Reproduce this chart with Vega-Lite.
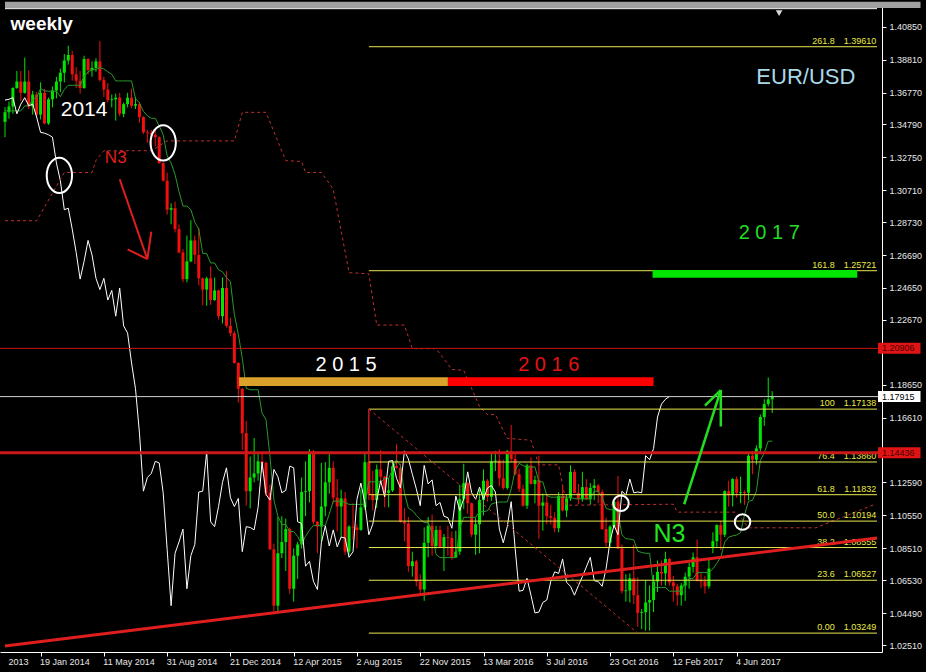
{
"$schema": "https://vega.github.io/schema/vega-lite/v6.json",
"width": 882, "height": 648, "autosize": "none",
"padding": {"top": 4, "left": 0, "right": 44, "bottom": 20},
"background": "#000000",
"config": {"view": {"stroke": null}},
"datasets": {
"c": [
{"w":0,"o":1.3495,"h":1.3586,"l":1.34,"c":1.3555,"t":1.3563,"k":1.363},
{"w":1,"o":1.3555,"h":1.362,"l":1.3515,"c":1.359,"t":1.3563,"k":1.3635},
{"w":2,"o":1.359,"h":1.371,"l":1.3545,"c":1.3705,"t":1.3563,"k":1.3645},
{"w":3,"o":1.3705,"h":1.381,"l":1.37,"c":1.3745,"t":1.3563,"k":1.3545},
{"w":4,"o":1.3745,"h":1.381,"l":1.3625,"c":1.3675,"t":1.3563,"k":1.3605},
{"w":5,"o":1.3675,"h":1.3893,"l":1.367,"c":1.3745,"t":1.3594,"k":1.3645},
{"w":6,"o":1.3745,"h":1.3815,"l":1.3575,"c":1.359,"t":1.3594,"k":1.3595},
{"w":7,"o":1.359,"h":1.3688,"l":1.354,"c":1.3665,"t":1.3632,"k":1.3605},
{"w":8,"o":1.3665,"h":1.368,"l":1.3525,"c":1.354,"t":1.3647,"k":1.3525},
{"w":9,"o":1.354,"h":1.374,"l":1.351,"c":1.3675,"t":1.3702,"k":1.343},
{"w":10,"o":1.3675,"h":1.37,"l":1.348,"c":1.3485,"t":1.3687,"k":1.3425},
{"w":11,"o":1.3485,"h":1.3645,"l":1.3477,"c":1.3635,"t":1.3685,"k":1.3415},
{"w":12,"o":1.3635,"h":1.3715,"l":1.3585,"c":1.369,"t":1.3685,"k":1.34},
{"w":13,"o":1.369,"h":1.3774,"l":1.364,"c":1.3745,"t":1.3685,"k":1.324},
{"w":14,"o":1.3745,"h":1.3825,"l":1.368,"c":1.38,"t":1.3651,"k":1.313},
{"w":15,"o":1.38,"h":1.3915,"l":1.374,"c":1.3875,"t":1.3696,"k":1.295},
{"w":16,"o":1.3875,"h":1.3967,"l":1.385,"c":1.391,"t":1.3722,"k":1.296},
{"w":17,"o":1.391,"h":1.3935,"l":1.375,"c":1.379,"t":1.3722,"k":1.283},
{"w":18,"o":1.379,"h":1.3835,"l":1.3705,"c":1.375,"t":1.3722,"k":1.2685},
{"w":19,"o":1.375,"h":1.381,"l":1.367,"c":1.3705,"t":1.3722,"k":1.252},
{"w":20,"o":1.3705,"h":1.3905,"l":1.37,"c":1.3885,"t":1.3776,"k":1.263},
{"w":21,"o":1.3885,"h":1.389,"l":1.379,"c":1.3815,"t":1.3804,"k":1.276},
{"w":22,"o":1.3815,"h":1.387,"l":1.3775,"c":1.383,"t":1.3819,"k":1.267},
{"w":23,"o":1.383,"h":1.389,"l":1.3805,"c":1.387,"t":1.3819,"k":1.2525},
{"w":24,"o":1.387,"h":1.3995,"l":1.3745,"c":1.3755,"t":1.3833,"k":1.2455},
{"w":25,"o":1.3755,"h":1.3775,"l":1.365,"c":1.3695,"t":1.3823,"k":1.2525},
{"w":26,"o":1.3695,"h":1.3735,"l":1.3615,"c":1.363,"t":1.3805,"k":1.239},
{"w":27,"o":1.363,"h":1.3665,"l":1.3585,"c":1.3635,"t":1.379,"k":1.245},
{"w":28,"o":1.3635,"h":1.367,"l":1.3503,"c":1.3645,"t":1.3749,"k":1.229},
{"w":29,"o":1.3645,"h":1.3675,"l":1.353,"c":1.3545,"t":1.3749,"k":1.2465},
{"w":30,"o":1.3545,"h":1.3615,"l":1.3525,"c":1.3605,"t":1.3749,"k":1.223},
{"w":31,"o":1.3605,"h":1.3675,"l":1.3585,"c":1.3645,"t":1.3749,"k":1.2185},
{"w":32,"o":1.3645,"h":1.37,"l":1.358,"c":1.3595,"t":1.3749,"k":1.2},
{"w":33,"o":1.3595,"h":1.365,"l":1.3575,"c":1.3605,"t":1.3639,"k":1.184},
{"w":34,"o":1.3605,"h":1.362,"l":1.349,"c":1.3525,"t":1.3613,"k":1.1565},
{"w":35,"o":1.3525,"h":1.353,"l":1.342,"c":1.343,"t":1.356,"k":1.1205},
{"w":36,"o":1.343,"h":1.3445,"l":1.3365,"c":1.3425,"t":1.3533,"k":1.129},
{"w":37,"o":1.3425,"h":1.3445,"l":1.3333,"c":1.3415,"t":1.3517,"k":1.1315},
{"w":38,"o":1.3415,"h":1.3445,"l":1.3345,"c":1.34,"t":1.3517,"k":1.139},
{"w":39,"o":1.34,"h":1.3405,"l":1.3235,"c":1.324,"t":1.347,"k":1.138},
{"w":40,"o":1.324,"h":1.3245,"l":1.3125,"c":1.313,"t":1.3415,"k":1.1195},
{"w":41,"o":1.313,"h":1.318,"l":1.292,"c":1.295,"t":1.3285,"k":1.0845},
{"w":42,"o":1.295,"h":1.299,"l":1.286,"c":1.296,"t":1.324,"k":1.0495},
{"w":43,"o":1.296,"h":1.3,"l":1.281,"c":1.283,"t":1.3168,"k":1.082},
{"w":44,"o":1.283,"h":1.286,"l":1.268,"c":1.2685,"t":1.3063,"k":1.089},
{"w":45,"o":1.2685,"h":1.2705,"l":1.25,"c":1.252,"t":1.2973,"k":1.097},
{"w":46,"o":1.252,"h":1.279,"l":1.25,"c":1.263,"t":1.2973,"k":1.06},
{"w":47,"o":1.263,"h":1.2885,"l":1.2625,"c":1.276,"t":1.295,"k":1.0805},
{"w":48,"o":1.276,"h":1.279,"l":1.2615,"c":1.267,"t":1.2873,"k":1.0875},
{"w":49,"o":1.267,"h":1.284,"l":1.248,"c":1.2525,"t":1.283,"k":1.12},
{"w":50,"o":1.2525,"h":1.253,"l":1.2358,"c":1.2455,"t":1.2679,"k":1.1205},
{"w":51,"o":1.2455,"h":1.2535,"l":1.2355,"c":1.2525,"t":1.2678,"k":1.145},
{"w":52,"o":1.2525,"h":1.26,"l":1.236,"c":1.239,"t":1.262,"k":1.1015},
{"w":53,"o":1.239,"h":1.253,"l":1.2385,"c":1.245,"t":1.262,"k":1.0985},
{"w":54,"o":1.245,"h":1.2455,"l":1.227,"c":1.229,"t":1.2578,"k":1.111},
{"w":55,"o":1.229,"h":1.253,"l":1.2245,"c":1.2465,"t":1.2565,"k":1.126},
{"w":56,"o":1.2465,"h":1.257,"l":1.222,"c":1.223,"t":1.253,"k":1.135},
{"w":57,"o":1.223,"h":1.228,"l":1.2165,"c":1.2185,"t":1.2503,"k":1.1165},
{"w":58,"o":1.2185,"h":1.22,"l":1.1995,"c":1.2,"t":1.23,"k":1.111},
{"w":59,"o":1.2,"h":1.2005,"l":1.1755,"c":1.184,"t":1.2178,"k":1.116},
{"w":60,"o":1.184,"h":1.1845,"l":1.146,"c":1.1565,"t":1.203,"k":1.083},
{"w":61,"o":1.1565,"h":1.164,"l":1.1115,"c":1.1205,"t":1.1843,"k":1.0985},
{"w":62,"o":1.1205,"h":1.142,"l":1.1098,"c":1.129,"t":1.1834,"k":1.098},
{"w":63,"o":1.129,"h":1.1535,"l":1.126,"c":1.1315,"t":1.1834,"k":1.0965},
{"w":64,"o":1.1315,"h":1.1445,"l":1.127,"c":1.139,"t":1.1834,"k":1.1105},
{"w":65,"o":1.139,"h":1.145,"l":1.132,"c":1.138,"t":1.1689,"k":1.1385},
{"w":66,"o":1.138,"h":1.139,"l":1.1175,"c":1.1195,"t":1.1649,"k":1.1185},
{"w":67,"o":1.1195,"h":1.1245,"l":1.084,"c":1.0845,"t":1.142,"k":1.115},
{"w":68,"o":1.0845,"h":1.088,"l":1.046,"c":1.0495,"t":1.115,"k":1.134},
{"w":69,"o":1.0495,"h":1.1045,"l":1.046,"c":1.082,"t":1.105,"k":1.1295},
{"w":70,"o":1.082,"h":1.105,"l":1.079,"c":1.089,"t":1.0998,"k":1.1195},
{"w":71,"o":1.089,"h":1.1035,"l":1.071,"c":1.097,"t":1.0998,"k":1.121},
{"w":72,"o":1.097,"h":1.098,"l":1.057,"c":1.06,"t":1.0955,"k":1.136},
{"w":73,"o":1.06,"h":1.085,"l":1.052,"c":1.0805,"t":1.0955,"k":1.135},
{"w":74,"o":1.0805,"h":1.089,"l":1.066,"c":1.0875,"t":1.0925,"k":1.1015},
{"w":75,"o":1.0875,"h":1.129,"l":1.085,"c":1.12,"t":1.0875,"k":1.1005},
{"w":76,"o":1.12,"h":1.139,"l":1.105,"c":1.1205,"t":1.0925,"k":1.074},
{"w":77,"o":1.1205,"h":1.1465,"l":1.1135,"c":1.145,"t":1.0963,"k":1.077},
{"w":78,"o":1.145,"h":1.146,"l":1.1,"c":1.1015,"t":1.0993,"k":1.0645},
{"w":79,"o":1.1015,"h":1.102,"l":1.082,"c":1.0985,"t":1.0993,"k":1.0595},
{"w":80,"o":1.0985,"h":1.138,"l":1.089,"c":1.111,"t":1.0993,"k":1.0885},
{"w":81,"o":1.111,"h":1.1385,"l":1.105,"c":1.126,"t":1.0993,"k":1.099},
{"w":82,"o":1.126,"h":1.1435,"l":1.119,"c":1.135,"t":1.1063,"k":1.0865},
{"w":83,"o":1.135,"h":1.139,"l":1.113,"c":1.1165,"t":1.1143,"k":1.0965},
{"w":84,"o":1.1165,"h":1.128,"l":1.0955,"c":1.111,"t":1.1143,"k":1.086},
{"w":85,"o":1.111,"h":1.1215,"l":1.0915,"c":1.116,"t":1.1143,"k":1.092},
{"w":86,"o":1.116,"h":1.12,"l":1.081,"c":1.083,"t":1.1135,"k":1.0915},
{"w":87,"o":1.083,"h":1.0995,"l":1.081,"c":1.0985,"t":1.1123,"k":1.0795},
{"w":88,"o":1.0985,"h":1.113,"l":1.0905,"c":1.098,"t":1.1123,"k":1.083},
{"w":89,"o":1.098,"h":1.1,"l":1.085,"c":1.0965,"t":1.1123,"k":1.1155},
{"w":90,"o":1.0965,"h":1.1215,"l":1.096,"c":1.1105,"t":1.1123,"k":1.1255},
{"w":91,"o":1.1105,"h":1.144,"l":1.109,"c":1.1385,"t":1.1125,"k":1.113},
{"w":92,"o":1.1385,"h":1.1715,"l":1.115,"c":1.1185,"t":1.1263,"k":1.0935},
{"w":93,"o":1.1185,"h":1.133,"l":1.1085,"c":1.115,"t":1.1263,"k":1.1},
{"w":94,"o":1.115,"h":1.137,"l":1.11,"c":1.134,"t":1.1263,"k":1.115},
{"w":95,"o":1.134,"h":1.146,"l":1.125,"c":1.1295,"t":1.1263,"k":1.127},
{"w":96,"o":1.1295,"h":1.13,"l":1.1105,"c":1.1195,"t":1.1283,"k":1.117},
{"w":97,"o":1.1195,"h":1.1285,"l":1.1105,"c":1.121,"t":1.1283,"k":1.139},
{"w":98,"o":1.121,"h":1.1385,"l":1.12,"c":1.136,"t":1.1338,"k":1.1395},
{"w":99,"o":1.136,"h":1.1495,"l":1.1345,"c":1.135,"t":1.14,"k":1.1285},
{"w":100,"o":1.135,"h":1.1375,"l":1.101,"c":1.1015,"t":1.1363,"k":1.1225},
{"w":101,"o":1.1015,"h":1.11,"l":1.0895,"c":1.1005,"t":1.1195,"k":1.1455},
{"w":102,"o":1.1005,"h":1.1045,"l":1.0705,"c":1.074,"t":1.11,"k":1.1405},
{"w":103,"o":1.074,"h":1.083,"l":1.0675,"c":1.077,"t":1.1085,"k":1.131},
{"w":104,"o":1.077,"h":1.078,"l":1.0615,"c":1.0645,"t":1.1055,"k":1.122},
{"w":105,"o":1.0645,"h":1.069,"l":1.0565,"c":1.0595,"t":1.103,"k":1.1115},
{"w":106,"o":1.0595,"h":1.098,"l":1.0525,"c":1.0885,"t":1.101,"k":1.1365},
{"w":107,"o":1.0885,"h":1.1045,"l":1.0795,"c":1.099,"t":1.101,"k":1.125},
{"w":108,"o":1.099,"h":1.106,"l":1.0805,"c":1.0865,"t":1.095,"k":1.1275},
{"w":109,"o":1.0865,"h":1.099,"l":1.085,"c":1.0965,"t":1.0813,"k":1.1115},
{"w":110,"o":1.0965,"h":1.099,"l":1.0855,"c":1.086,"t":1.0793,"k":1.1135},
{"w":111,"o":1.086,"h":1.094,"l":1.071,"c":1.092,"t":1.0793,"k":1.105},
{"w":112,"o":1.092,"h":1.099,"l":1.0805,"c":1.0915,"t":1.0793,"k":1.104},
{"w":113,"o":1.0915,"h":1.0955,"l":1.078,"c":1.0795,"t":1.0793,"k":1.0975},
{"w":114,"o":1.0795,"h":1.096,"l":1.079,"c":1.083,"t":1.0793,"k":1.1175},
{"w":115,"o":1.083,"h":1.1245,"l":1.081,"c":1.1155,"t":1.0978,"k":1.1085},
{"w":116,"o":1.1155,"h":1.1375,"l":1.1095,"c":1.1255,"t":1.1043,"k":1.116},
{"w":117,"o":1.1255,"h":1.126,"l":1.1065,"c":1.113,"t":1.1043,"k":1.1325},
{"w":118,"o":1.113,"h":1.1135,"l":1.092,"c":1.0935,"t":1.1043,"k":1.1195},
{"w":119,"o":1.0935,"h":1.104,"l":1.081,"c":1.1,"t":1.1043,"k":1.1155},
{"w":120,"o":1.1,"h":1.1215,"l":1.082,"c":1.115,"t":1.1078,"k":1.123},
{"w":121,"o":1.115,"h":1.134,"l":1.1055,"c":1.127,"t":1.1078,"k":1.1155},
{"w":122,"o":1.127,"h":1.128,"l":1.114,"c":1.117,"t":1.1083,"k":1.1225},
{"w":123,"o":1.117,"h":1.144,"l":1.1145,"c":1.139,"t":1.1125,"k":1.124},
{"w":124,"o":1.139,"h":1.1455,"l":1.133,"c":1.1395,"t":1.1133,"k":1.12},
{"w":125,"o":1.1395,"h":1.1465,"l":1.1235,"c":1.1285,"t":1.1138,"k":1.097},
{"w":126,"o":1.1285,"h":1.14,"l":1.1215,"c":1.1225,"t":1.1138,"k":1.0885},
{"w":127,"o":1.1225,"h":1.146,"l":1.1215,"c":1.1455,"t":1.1138,"k":1.0985},
{"w":128,"o":1.1455,"h":1.1615,"l":1.1385,"c":1.1405,"t":1.1218,"k":1.114},
{"w":129,"o":1.1405,"h":1.1445,"l":1.1305,"c":1.131,"t":1.1335,"k":1.085},
{"w":130,"o":1.131,"h":1.1345,"l":1.12,"c":1.122,"t":1.1378,"k":1.0585},
{"w":131,"o":1.122,"h":1.1245,"l":1.111,"c":1.1115,"t":1.1363,"k":1.059},
{"w":132,"o":1.1115,"h":1.1375,"l":1.1095,"c":1.1365,"t":1.1355,"k":1.0665},
{"w":133,"o":1.1365,"h":1.1415,"l":1.1245,"c":1.125,"t":1.1355,"k":1.056},
{"w":134,"o":1.125,"h":1.13,"l":1.113,"c":1.1275,"t":1.1355,"k":1.045},
{"w":135,"o":1.1275,"h":1.1425,"l":1.091,"c":1.1115,"t":1.1263,"k":1.0455},
{"w":136,"o":1.1115,"h":1.119,"l":1.096,"c":1.1135,"t":1.1263,"k":1.0515},
{"w":137,"o":1.1135,"h":1.1185,"l":1.1,"c":1.105,"t":1.1178,"k":1.053},
{"w":138,"o":1.105,"h":1.112,"l":1.1,"c":1.104,"t":1.1168,"k":1.0645},
{"w":139,"o":1.104,"h":1.1075,"l":1.095,"c":1.0975,"t":1.1168,"k":1.0705},
{"w":140,"o":1.0975,"h":1.12,"l":1.095,"c":1.1175,"t":1.1168,"k":1.0695},
{"w":141,"o":1.1175,"h":1.1235,"l":1.108,"c":1.1085,"t":1.1168,"k":1.0785},
{"w":142,"o":1.1085,"h":1.1185,"l":1.1045,"c":1.116,"t":1.1168,"k":1.064},
{"w":143,"o":1.116,"h":1.1365,"l":1.1145,"c":1.1325,"t":1.1168,"k":1.0615},
{"w":144,"o":1.1325,"h":1.134,"l":1.119,"c":1.1195,"t":1.1158,"k":1.056},
{"w":145,"o":1.1195,"h":1.125,"l":1.1125,"c":1.1155,"t":1.1158,"k":1.062},
{"w":146,"o":1.1155,"h":1.1325,"l":1.114,"c":1.123,"t":1.1158,"k":1.0675},
{"w":147,"o":1.123,"h":1.128,"l":1.115,"c":1.1155,"t":1.1158,"k":1.0735},
{"w":148,"o":1.1155,"h":1.1255,"l":1.112,"c":1.1225,"t":1.1158,"k":1.0795},
{"w":149,"o":1.1225,"h":1.128,"l":1.115,"c":1.124,"t":1.1205,"k":1.065},
{"w":150,"o":1.124,"h":1.125,"l":1.113,"c":1.12,"t":1.1205,"k":1.0645},
{"w":151,"o":1.12,"h":1.1215,"l":1.0965,"c":1.097,"t":1.1165,"k":1.0615},
{"w":152,"o":1.097,"h":1.104,"l":1.086,"c":1.0885,"t":1.11,"k":1.0725},
{"w":153,"o":1.0885,"h":1.0995,"l":1.0855,"c":1.0985,"t":1.109,"k":1.0895},
{"w":154,"o":1.0985,"h":1.1145,"l":1.0975,"c":1.114,"t":1.109,"k":1.0995},
{"w":155,"o":1.114,"h":1.13,"l":1.0845,"c":1.085,"t":1.1075,"k":1.0935},
{"w":156,"o":1.085,"h":1.0875,"l":1.057,"c":1.0585,"t":1.0935,"k":1.1205},
{"w":157,"o":1.0585,"h":1.069,"l":1.052,"c":1.059,"t":1.091,"k":1.118},
{"w":158,"o":1.059,"h":1.0695,"l":1.0515,"c":1.0665,"t":1.0908,"k":1.128},
{"w":159,"o":1.0665,"h":1.0875,"l":1.0505,"c":1.056,"t":1.0903,"k":1.1195},
{"w":160,"o":1.056,"h":1.067,"l":1.0365,"c":1.045,"t":1.0833,"k":1.12},
{"w":161,"o":1.045,"h":1.0475,"l":1.035,"c":1.0455,"t":1.0825,"k":1.1195},
{"w":162,"o":1.0455,"h":1.0655,"l":1.034,"c":1.0515,"t":1.082,"k":1.1425},
{"w":163,"o":1.0515,"h":1.062,"l":1.034,"c":1.053,"t":1.082,"k":1.14},
{"w":164,"o":1.053,"h":1.0685,"l":1.0455,"c":1.0645,"t":1.0608,"k":1.147},
{"w":165,"o":1.0645,"h":1.0775,"l":1.058,"c":1.0705,"t":1.0608,"k":1.1665},
{"w":166,"o":1.0705,"h":1.0775,"l":1.062,"c":1.0695,"t":1.0608,"k":1.1745},
{"w":167,"o":1.0695,"h":1.083,"l":1.062,"c":1.0785,"t":1.0608,"k":1.1775},
{"w":168,"o":1.0785,"h":1.079,"l":1.062,"c":1.064,"t":1.0585,"k":1.1792},
{"w":169,"o":1.064,"h":1.068,"l":1.052,"c":1.0615,"t":1.0585},
{"w":170,"o":1.0615,"h":1.063,"l":1.0495,"c":1.056,"t":1.0585},
{"w":171,"o":1.056,"h":1.0635,"l":1.0495,"c":1.062,"t":1.0585},
{"w":172,"o":1.062,"h":1.07,"l":1.0525,"c":1.0675,"t":1.0643},
{"w":173,"o":1.0675,"h":1.076,"l":1.06,"c":1.0735,"t":1.0663},
{"w":174,"o":1.0735,"h":1.0825,"l":1.07,"c":1.0795,"t":1.0663},
{"w":175,"o":1.0795,"h":1.0905,"l":1.0645,"c":1.065,"t":1.07},
{"w":176,"o":1.065,"h":1.0695,"l":1.0605,"c":1.0645,"t":1.07},
{"w":177,"o":1.0645,"h":1.068,"l":1.057,"c":1.0615,"t":1.07},
{"w":178,"o":1.0615,"h":1.078,"l":1.06,"c":1.0725,"t":1.07},
{"w":179,"o":1.086,"h":1.095,"l":1.082,"c":1.0895,"t":1.0723},
{"w":180,"o":1.0895,"h":1.1,"l":1.086,"c":1.0995,"t":1.0758},
{"w":181,"o":1.0995,"h":1.102,"l":1.084,"c":1.0935,"t":1.0795},
{"w":182,"o":1.0935,"h":1.121,"l":1.092,"c":1.1205,"t":1.089},
{"w":183,"o":1.1205,"h":1.127,"l":1.111,"c":1.118,"t":1.092},
{"w":184,"o":1.118,"h":1.1285,"l":1.111,"c":1.128,"t":1.0928},
{"w":185,"o":1.128,"h":1.1295,"l":1.1165,"c":1.1195,"t":1.0933},
{"w":186,"o":1.1195,"h":1.1295,"l":1.113,"c":1.12,"t":1.0948},
{"w":187,"o":1.12,"h":1.121,"l":1.112,"c":1.1195,"t":1.1058},
{"w":188,"o":1.1195,"h":1.1445,"l":1.115,"c":1.1425,"t":1.1143},
{"w":189,"o":1.1425,"h":1.1455,"l":1.131,"c":1.14,"t":1.1148},
{"w":190,"o":1.14,"h":1.149,"l":1.137,"c":1.147,"t":1.1205},
{"w":191,"o":1.147,"h":1.168,"l":1.144,"c":1.1665,"t":1.1395},
{"w":192,"o":1.1665,"h":1.1775,"l":1.161,"c":1.1745,"t":1.1443},
{"w":193,"o":1.1745,"h":1.191,"l":1.173,"c":1.1775,"t":1.1515},
{"w":194,"o":1.1775,"h":1.1825,"l":1.169,"c":1.1792,"t":1.1515}
],
"sb": [
{"w":0,"v":1.2882},{"w":8,"v":1.2882},{"w":15,"v":1.3181},{"w":22,"v":1.3181},{"w":23,"v":1.3255},{"w":25,"v":1.3316},{"w":37,"v":1.3316},{"w":41,"v":1.3377},{"w":58,"v":1.3377},{"w":60,"v":1.3554},{"w":66,"v":1.3554},{"w":71,"v":1.3255},{"w":75,"v":1.3249},{"w":76,"v":1.3181},{"w":80,"v":1.3181},{"w":83,"v":1.3078},{"w":87,"v":1.256},{"w":92,"v":1.2553},{"w":94,"v":1.2235},{"w":101,"v":1.2235},{"w":103,"v":1.2089},{"w":109,"v":1.2089},{"w":113,"v":1.196},{"w":116,"v":1.1954},{"w":120,"v":1.1729},{"w":122,"v":1.168},{"w":124,"v":1.168},{"w":127,"v":1.1533},{"w":133,"v":1.1521},{"w":135,"v":1.1368},{"w":140,"v":1.1368},{"w":142,"v":1.1118},{"w":169,"v":1.1124},{"w":170,"v":1.1075},{"w":185,"v":1.1075},{"w":188,"v":1.0978},{"w":205,"v":1.0978},{"w":220,"v":1.1124}
],
"fib": [
{"lvl":"261.8","s":"1.39610","v":1.3961},{"lvl":"161.8","s":"1.25721","v":1.25721},{"lvl":"100","s":"1.17138","v":1.17138},{"lvl":"76.4","s":"1.13860","v":1.1386},{"lvl":"61.8","s":"1.11832","v":1.11832},{"lvl":"50.0","s":"1.10194","v":1.10194},{"lvl":"38.2","s":"1.08555","v":1.08555},{"lvl":"23.6","s":"1.06527","v":1.06527},{"lvl":"0.00","s":"1.03249","v":1.03249}
]
},
"layer": [
{"data": {"name": "c"},
 "mark": {"type": "rule", "strokeWidth": 1},
 "encoding": {
  "x": {"field": "w", "type": "quantitative", "scale": {"domain": [0, 220.5], "nice": false, "zero": false},
   "axis": {"orient": "bottom", "title": null, "grid": false, "values": [0, 9, 25, 41, 57, 73, 89, 105, 121, 137, 153, 169, 185], "tickCount": 40,
    "labelExpr": "['2013','19 Jan 2014','11 May 2014','31 Aug 2014','21 Dec 2014','12 Apr 2015','2 Aug 2015','22 Nov 2015','13 Mar 2016','3 Jul 2016','23 Oct 2016','12 Feb 2017','4 Jun 2017'][datum.value == 0 ? 0 : (datum.value - 9) / 16 + 1]",
    "labelAlign": "left", "labelBaseline": "top", "labelPadding": 1, "tickSize": 4, "tickColor": "#ffffff", "domainColor": "#ffffff", "domainWidth": 1,
    "labelColor": "#e8e8e8", "labelFont": "Liberation Sans", "labelFontSize": 9, "labelFlush": false, "labelOverlap": false, "labelBound": false,
    "labelOffset": {"condition": {"test": "datum.value == 0", "value": 3}, "value": -1},
    "tickOpacity": {"condition": {"test": "datum.value == 0", "value": 0}, "value": 1}}},
  "y": {"field": "l", "type": "quantitative", "scale": {"domain": [1.02388, 1.41949], "nice": false, "zero": false},
   "axis": {"orient": "right", "title": null, "grid": false, "values": [1.4085, 1.3881, 1.3677, 1.3479, 1.3275, 1.3071, 1.2873, 1.2669, 1.2465, 1.2267, 1.1865, 1.1661, 1.1259, 1.1055, 1.0851, 1.0653, 1.0449, 1.0251], "tickCount": 40,
    "format": ".5f", "tickSize": 4, "tickColor": "#ffffff", "domainColor": "#ffffff", "domainWidth": 1, "labelPadding": 3,
    "labelColor": "#e8e8e8", "labelFont": "Liberation Sans", "labelFontSize": 9, "labelFlush": false, "labelOverlap": false, "labelBound": false}},
  "y2": {"field": "h"},
  "color": {"condition": {"test": "datum.c >= datum.o", "value": "#00e600"}, "value": "#f01010"}}},
{"data": {"values": [{"x1": 0, "x2": 231.5, "y1": 1.4201, "y2": 1.424}]},
 "mark": {"type": "rect", "color": "#a0a0a0"},
 "encoding": {"x": {"field": "x1", "type": "quantitative", "scale": {"domain": [0, 220.5], "nice": false, "zero": false}}, "x2": {"field": "x2"},
  "y": {"field": "y1", "type": "quantitative", "scale": {"domain": [1.02388, 1.41949], "nice": false, "zero": false}}, "y2": {"field": "y2"}}},
{"data": {"values": [{"x1": 0, "x2": 220.5, "v": 1.4197}]},
 "mark": {"type": "rule", "color": "#ffffff", "strokeWidth": 1},
 "encoding": {"x": {"field": "x1", "type": "quantitative", "scale": {"domain": [0, 220.5], "nice": false, "zero": false}}, "x2": {"field": "x2"},
  "y": {"field": "v", "type": "quantitative", "scale": {"domain": [1.02388, 1.41949], "nice": false, "zero": false}}}},
{"data": {"name": "c"},
 "mark": {"type": "bar"},
 "encoding": {
  "x": {"field": "w", "type": "quantitative", "scale": {"domain": [0, 220.5], "nice": false, "zero": false}},
  "y": {"field": "o", "type": "quantitative", "scale": {"domain": [1.02388, 1.41949], "nice": false, "zero": false}},
  "y2": {"field": "c"},
  "size": {"value": 3},
  "color": {"condition": {"test": "datum.c >= datum.o", "value": "#00e600"}, "value": "#f01010"}}},
{"data": {"name": "c"},
 "mark": {"type": "line", "color": "#2a9a2a", "strokeWidth": 1},
 "encoding": {
  "x": {"field": "w", "type": "quantitative", "scale": {"domain": [0, 220.5], "nice": false, "zero": false}},
  "y": {"field": "t", "type": "quantitative", "scale": {"domain": [1.02388, 1.41949], "nice": false, "zero": false}}}},
{"data": {"name": "c"},
 "transform": [{"filter": "isValid(datum.k)"}],
 "mark": {"type": "line", "color": "#ffffff", "strokeWidth": 1},
 "encoding": {
  "x": {"field": "w", "type": "quantitative", "scale": {"domain": [0, 220.5], "nice": false, "zero": false}},
  "y": {"field": "k", "type": "quantitative", "scale": {"domain": [1.02388, 1.41949], "nice": false, "zero": false}}}},
{"data": {"name": "sb"},
 "mark": {"type": "line", "color": "#c03030", "strokeWidth": 1, "strokeDash": [3, 3]},
 "encoding": {
  "x": {"field": "w", "type": "quantitative", "scale": {"domain": [0, 220.5], "nice": false, "zero": false}},
  "y": {"field": "v", "type": "quantitative", "scale": {"domain": [1.02388, 1.41949], "nice": false, "zero": false}}}},
{"data": {"name": "fib"},
 "mark": {"type": "rule", "color": "#e8e850", "strokeWidth": 1},
 "encoding": {
  "x": {"datum": 92, "type": "quantitative", "scale": {"domain": [0, 220.5], "nice": false, "zero": false}},
  "x2": {"datum": 220.5},
  "y": {"field": "v", "type": "quantitative", "scale": {"domain": [1.02388, 1.41949], "nice": false, "zero": false}}}},
{"data": {"name": "fib"},
 "mark": {"type": "text", "color": "#eaea44", "font": "Liberation Sans", "fontSize": 9, "align": "right", "baseline": "bottom", "dy": -1},
 "encoding": {
  "x": {"datum": 209.8, "type": "quantitative", "scale": {"domain": [0, 220.5], "nice": false, "zero": false}},
  "y": {"field": "v", "type": "quantitative", "scale": {"domain": [1.02388, 1.41949], "nice": false, "zero": false}},
  "text": {"field": "lvl"}}},
{"data": {"name": "fib"},
 "mark": {"type": "text", "color": "#eaea44", "font": "Liberation Sans", "fontSize": 9, "align": "right", "baseline": "bottom", "dy": -1},
 "encoding": {
  "x": {"datum": 220.3, "type": "quantitative", "scale": {"domain": [0, 220.5], "nice": false, "zero": false}},
  "y": {"field": "v", "type": "quantitative", "scale": {"domain": [1.02388, 1.41949], "nice": false, "zero": false}},
  "text": {"field": "s"}}},
{"data": {"values": [{"x1": 92, "y1": 1.17138, "x2": 160, "y2": 1.03249}]},
 "mark": {"type": "rule", "color": "#c03030", "strokeWidth": 1, "strokeDash": [3, 3]},
 "encoding": {
  "x": {"field": "x1", "type": "quantitative", "scale": {"domain": [0, 220.5], "nice": false, "zero": false}}, "x2": {"field": "x2"},
  "y": {"field": "y1", "type": "quantitative", "scale": {"domain": [1.02388, 1.41949], "nice": false, "zero": false}}, "y2": {"field": "y2"}}},
{"data": {"values": [{"x1": 92, "y1": 1.17138, "y2": 1.1395}]},
 "mark": {"type": "rule", "color": "#c02020", "strokeWidth": 1},
 "encoding": {
  "x": {"field": "x1", "type": "quantitative", "scale": {"domain": [0, 220.5], "nice": false, "zero": false}},
  "y": {"field": "y1", "type": "quantitative", "scale": {"domain": [1.02388, 1.41949], "nice": false, "zero": false}}, "y2": {"field": "y2"}}},
{"data": {"values": [{"v": 1.20906}]},
 "mark": {"type": "rule", "color": "#c81414", "strokeWidth": 1},
 "encoding": {"y": {"field": "v", "type": "quantitative", "scale": {"domain": [1.02388, 1.41949], "nice": false, "zero": false}}}},
{"data": {"values": [{"v": 1.17915}]},
 "mark": {"type": "rule", "color": "#d0d0d0", "strokeWidth": 1},
 "encoding": {"y": {"field": "v", "type": "quantitative", "scale": {"domain": [1.02388, 1.41949], "nice": false, "zero": false}}}},
{"data": {"values": [{"v": 1.14436}]},
 "mark": {"type": "rule", "color": "#cc1818", "strokeWidth": 3},
 "encoding": {"y": {"field": "v", "type": "quantitative", "scale": {"domain": [1.02388, 1.41949], "nice": false, "zero": false}}}},
{"data": {"values": [{"x1": 0, "y1": 1.0245, "x2": 220.5, "y2": 1.0915}]},
 "mark": {"type": "rule", "color": "#e01e1e", "strokeWidth": 3},
 "encoding": {
  "x": {"field": "x1", "type": "quantitative", "scale": {"domain": [0, 220.5], "nice": false, "zero": false}}, "x2": {"field": "x2"},
  "y": {"field": "y1", "type": "quantitative", "scale": {"domain": [1.02388, 1.41949], "nice": false, "zero": false}}, "y2": {"field": "y2"}}},
{"data": {"values": [{"yr": "2015", "x1": 59.2, "x2": 112, "y1": 1.18567, "y2": 1.19116}, {"yr": "2016", "x1": 112, "x2": 164, "y1": 1.18567, "y2": 1.19116}, {"yr": "2017", "x1": 163.75, "x2": 215.5, "y1": 1.25282, "y2": 1.25771}]},
 "mark": {"type": "rect"},
 "encoding": {
  "x": {"field": "x1", "type": "quantitative", "scale": {"domain": [0, 220.5], "nice": false, "zero": false}}, "x2": {"field": "x2"},
  "y": {"field": "y1", "type": "quantitative", "scale": {"domain": [1.02388, 1.41949], "nice": false, "zero": false}}, "y2": {"field": "y2"},
  "color": {"field": "yr", "type": "nominal", "legend": null, "scale": {"domain": ["2015", "2016", "2017"], "range": ["#daa22a", "#ff0000", "#00e600"]}}}},
{"data": {"values": [{"t": "2014", "w": 20, "v": 1.35295}]},
 "mark": {"type": "text", "color": "#ffffff", "font": "Liberation Sans", "fontSize": 21, "align": "center", "baseline": "alphabetic"},
 "encoding": {"x": {"field": "w", "type": "quantitative", "scale": {"domain": [0, 220.5], "nice": false, "zero": false}},
  "y": {"field": "v", "type": "quantitative", "scale": {"domain": [1.02388, 1.41949], "nice": false, "zero": false}}, "text": {"field": "t"}}},
{"data": {"values": [{"t": "2 0 1 5", "w": 86.25, "v": 1.19483}]},
 "mark": {"type": "text", "color": "#ffffff", "font": "Liberation Sans", "fontSize": 20, "align": "center", "baseline": "alphabetic"},
 "encoding": {"x": {"field": "w", "type": "quantitative", "scale": {"domain": [0, 220.5], "nice": false, "zero": false}},
  "y": {"field": "v", "type": "quantitative", "scale": {"domain": [1.02388, 1.41949], "nice": false, "zero": false}}, "text": {"field": "t"}}},
{"data": {"values": [{"t": "2 0 1 6", "w": 137.5, "v": 1.19483}]},
 "mark": {"type": "text", "color": "#e01414", "font": "Liberation Sans", "fontSize": 20, "align": "center", "baseline": "alphabetic"},
 "encoding": {"x": {"field": "w", "type": "quantitative", "scale": {"domain": [0, 220.5], "nice": false, "zero": false}},
  "y": {"field": "v", "type": "quantitative", "scale": {"domain": [1.02388, 1.41949], "nice": false, "zero": false}}, "text": {"field": "t"}}},
{"data": {"values": [{"t": "2 0 1 7", "w": 193.25, "v": 1.27663}]},
 "mark": {"type": "text", "color": "#22dd22", "font": "Liberation Sans", "fontSize": 20, "align": "center", "baseline": "alphabetic"},
 "encoding": {"x": {"field": "w", "type": "quantitative", "scale": {"domain": [0, 220.5], "nice": false, "zero": false}},
  "y": {"field": "v", "type": "quantitative", "scale": {"domain": [1.02388, 1.41949], "nice": false, "zero": false}}, "text": {"field": "t"}}},
{"data": {"values": [{"t": "N3", "w": 28, "v": 1.32425}]},
 "mark": {"type": "text", "color": "#e01e1e", "font": "Liberation Sans", "fontSize": 17, "align": "center", "baseline": "alphabetic"},
 "encoding": {"x": {"field": "w", "type": "quantitative", "scale": {"domain": [0, 220.5], "nice": false, "zero": false}},
  "y": {"field": "v", "type": "quantitative", "scale": {"domain": [1.02388, 1.41949], "nice": false, "zero": false}}, "text": {"field": "t"}}},
{"data": {"values": [{"t": "N3", "w": 168, "v": 1.08921}]},
 "mark": {"type": "text", "color": "#22e622", "font": "Liberation Sans", "fontSize": 25, "align": "center", "baseline": "alphabetic"},
 "encoding": {"x": {"field": "w", "type": "quantitative", "scale": {"domain": [0, 220.5], "nice": false, "zero": false}},
  "y": {"field": "v", "type": "quantitative", "scale": {"domain": [1.02388, 1.41949], "nice": false, "zero": false}}, "text": {"field": "t"}}},
{"data": {"values": [{"t": "EUR/USD", "w": 202.5, "v": 1.37309}]},
 "mark": {"type": "text", "color": "#a9d9e9", "font": "Liberation Sans", "fontSize": 22, "align": "center", "baseline": "alphabetic"},
 "encoding": {"x": {"field": "w", "type": "quantitative", "scale": {"domain": [0, 220.5], "nice": false, "zero": false}},
  "y": {"field": "v", "type": "quantitative", "scale": {"domain": [1.02388, 1.41949], "nice": false, "zero": false}}, "text": {"field": "t"}}},
{"data": {"values": [{"t": "weekly", "w": 1.4, "v": 1.4067}]},
 "mark": {"type": "text", "color": "#ffffff", "font": "Liberation Sans", "fontSize": 19, "fontWeight": "bold", "align": "left", "baseline": "alphabetic"},
 "encoding": {"x": {"field": "w", "type": "quantitative", "scale": {"domain": [0, 220.5], "nice": false, "zero": false}},
  "y": {"field": "v", "type": "quantitative", "scale": {"domain": [1.02388, 1.41949], "nice": false, "zero": false}}, "text": {"field": "t"}}},
{"data": {"values": [{"w": 13.75, "v": 1.3163}, {"w": 40, "v": 1.3365}]},
 "mark": {"type": "point", "shape": "M0,-1.4A1,1.4,0,1,1,0,1.4A1,1.4,0,1,1,0,-1.4Z", "size": 640, "filled": false, "stroke": "#ffffff", "strokeWidth": 2, "opacity": 1},
 "encoding": {"x": {"field": "w", "type": "quantitative", "scale": {"domain": [0, 220.5], "nice": false, "zero": false}},
  "y": {"field": "v", "type": "quantitative", "scale": {"domain": [1.02388, 1.41949], "nice": false, "zero": false}}}},
{"data": {"values": [{"w": 155.75, "v": 1.113}, {"w": 186.5, "v": 1.1014}]},
 "mark": {"type": "point", "shape": "circle", "size": 240, "filled": false, "stroke": "#ffffff", "strokeWidth": 2, "opacity": 1},
 "encoding": {"x": {"field": "w", "type": "quantitative", "scale": {"domain": [0, 220.5], "nice": false, "zero": false}},
  "y": {"field": "v", "type": "quantitative", "scale": {"domain": [1.02388, 1.41949], "nice": false, "zero": false}}}},
{"data": {"values": [{"x1": 29, "y1": 1.3139, "x2": 36, "y2": 1.2644}, {"x1": 31, "y1": 1.2705, "x2": 36, "y2": 1.2644}, {"x1": 37, "y1": 1.2815, "x2": 36, "y2": 1.2644}]},
 "mark": {"type": "rule", "color": "#e01e1e", "strokeWidth": 2},
 "encoding": {
  "x": {"field": "x1", "type": "quantitative", "scale": {"domain": [0, 220.5], "nice": false, "zero": false}}, "x2": {"field": "x2"},
  "y": {"field": "y1", "type": "quantitative", "scale": {"domain": [1.02388, 1.41949], "nice": false, "zero": false}}, "y2": {"field": "y2"}}},
{"data": {"values": [{"x1": 171.75, "y1": 1.1124, "x2": 181, "y2": 1.1832}, {"x1": 177, "y1": 1.1735, "x2": 181, "y2": 1.1832}, {"x1": 181, "y1": 1.1606, "x2": 181, "y2": 1.1832}]},
 "mark": {"type": "rule", "color": "#22dd22", "strokeWidth": 2.5},
 "encoding": {
  "x": {"field": "x1", "type": "quantitative", "scale": {"domain": [0, 220.5], "nice": false, "zero": false}}, "x2": {"field": "x2"},
  "y": {"field": "y1", "type": "quantitative", "scale": {"domain": [1.02388, 1.41949], "nice": false, "zero": false}}, "y2": {"field": "y2"}}},
{"data": {"values": [{"w": 195.75, "v": 1.4169}]},
 "mark": {"type": "point", "shape": "triangle-down", "size": 45, "filled": true, "color": "#d8d8d8", "opacity": 1},
 "encoding": {"x": {"field": "w", "type": "quantitative", "scale": {"domain": [0, 220.5], "nice": false, "zero": false}},
  "y": {"field": "v", "type": "quantitative", "scale": {"domain": [1.02388, 1.41949], "nice": false, "zero": false}}}},
{"data": {"values": [{"v": 1.20906, "s": "1.20906"}, {"v": 1.14436, "s": "1.14436"}]},
 "mark": {"type": "bar", "color": "#e01414"},
 "encoding": {
  "x": {"datum": 220.75, "type": "quantitative", "scale": {"domain": [0, 220.5], "nice": false, "zero": false}}, "x2": {"datum": 231.5},
  "y": {"field": "v", "type": "quantitative", "scale": {"domain": [1.02388, 1.41949], "nice": false, "zero": false}},
  "size": {"value": 11}}},
{"data": {"values": [{"v": 1.17915, "s": "1.17915"}]},
 "mark": {"type": "bar", "color": "#ffffff"},
 "encoding": {
  "x": {"datum": 220.75, "type": "quantitative", "scale": {"domain": [0, 220.5], "nice": false, "zero": false}}, "x2": {"datum": 231.5},
  "y": {"field": "v", "type": "quantitative", "scale": {"domain": [1.02388, 1.41949], "nice": false, "zero": false}},
  "size": {"value": 11}}},
{"data": {"values": [{"v": 1.20906, "s": "1.20906"}, {"v": 1.14436, "s": "1.14436"}]},
 "mark": {"type": "text", "color": "#4a0000", "font": "Liberation Sans", "fontSize": 9, "align": "left", "baseline": "middle"},
 "encoding": {
  "x": {"datum": 221.75, "type": "quantitative", "scale": {"domain": [0, 220.5], "nice": false, "zero": false}},
  "y": {"field": "v", "type": "quantitative", "scale": {"domain": [1.02388, 1.41949], "nice": false, "zero": false}},
  "text": {"field": "s"}}},
{"data": {"values": [{"v": 1.17915, "s": "1.17915"}]},
 "mark": {"type": "text", "color": "#000000", "font": "Liberation Sans", "fontSize": 9, "align": "left", "baseline": "middle"},
 "encoding": {
  "x": {"datum": 221.75, "type": "quantitative", "scale": {"domain": [0, 220.5], "nice": false, "zero": false}},
  "y": {"field": "v", "type": "quantitative", "scale": {"domain": [1.02388, 1.41949], "nice": false, "zero": false}},
  "text": {"field": "s"}}}
]
}
